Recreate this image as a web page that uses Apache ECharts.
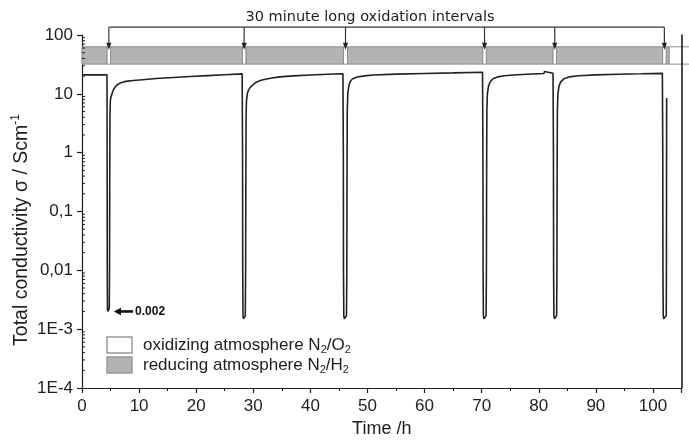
<!DOCTYPE html>
<html><head><meta charset="utf-8">
<script src="https://cdn.jsdelivr.net/npm/echarts@6/dist/echarts.min.js"></script>
<style>html,body{margin:0;padding:0;background:#fff}#c{width:689px;height:443px}</style>
</head><body><div id="c"></div>
<script>
// measured conductivity trace (time in h, sigma in S/cm)
const timeH = [
  0, 1, 2, 3, 4.38,
  4.4, 4.42, 4.46, 4.55, 4.7, 4.78, 4.82, 4.86, 4.9, 4.96, 5.05, 5.2, 5.35, 5.6, 5.9, 6.3, 6.9, 7.7, 9, 10.6, 13, 16, 19, 22, 25, 28.05,
  28.12, 28.15, 28.2, 28.3, 28.5, 28.6, 28.66, 28.7, 28.74, 28.8, 28.95, 29.2, 29.6, 30.5, 31.5, 33, 34.6, 37, 40, 43, 45.7,
  45.77, 45.8, 45.85, 45.95, 46.25, 46.33, 46.38, 46.42, 46.46, 46.55, 46.75, 47.0, 47.4, 48.2, 49.5, 51, 55, 60, 65, 70.15,
  70.22, 70.25, 70.3, 70.4, 70.7, 70.78, 70.83, 70.87, 70.91, 71.0, 71.2, 71.5, 72.0, 72.8, 74, 75.5, 78, 80.9, 81.0, 81.1, 82.5,
  82.57, 82.6, 82.65, 82.75, 83.05, 83.13, 83.18, 83.22, 83.26, 83.35, 83.55, 83.85, 84.4, 85.3, 87, 90, 94, 98, 101.65,
  101.72, 101.75, 101.8, 101.9, 102.25, 102.33, 102.36, 102.38, 102.4
];
const sigma = [
  21, 21, 21, 21, 21,
  1, 0.01, 0.0022, 0.002, 0.002, 0.0023, 0.01, 0.5, 4, 7.5, 8.8, 9.6, 10.8, 12.2, 13.4, 14.6, 15.6, 16.3, 16.9, 17.4, 18.2, 19, 19.7, 20.4, 21.1, 21.8,
  1, 0.01, 0.0017, 0.0015, 0.0015, 0.0017, 0.01, 0.5, 4, 7.5, 10, 11.8, 13.3, 15.8, 17.2, 18.4, 19.4, 20.2, 20.9, 21.5, 22,
  1, 0.01, 0.0017, 0.0015, 0.0015, 0.0017, 0.01, 0.5, 5, 10, 14, 16.4, 18, 19.3, 20.2, 20.9, 21.6, 22.2, 22.7, 23.3,
  1, 0.01, 0.0017, 0.0015, 0.0015, 0.0017, 0.01, 0.5, 5, 10, 13.5, 16, 18, 19.4, 20.3, 20.9, 21.5, 22.1, 24, 22.2, 22.3,
  1, 0.01, 0.0017, 0.0015, 0.0015, 0.0017, 0.01, 0.5, 5, 10, 13.5, 16, 18, 19.4, 20.3, 21, 21.5, 21.9, 22.3,
  1, 0.01, 0.0017, 0.0015, 0.0015, 0.0017, 0.01, 0.5, 8.5
];
const yTickValues = [1e-4, 1e-3, 0.01, 0.1, 1, 10, 100];
const yTickLabels = ['1E-4', '1E-3', '0,01', '0,1', '1', '10', '100'];
const yMinorTicks = [
  2e-4,3e-4,4e-4,5e-4,6e-4,7e-4,8e-4,9e-4,
  2e-3,3e-3,4e-3,5e-3,6e-3,7e-3,8e-3,9e-3,
  0.02,0.03,0.04,0.05,0.06,0.07,0.08,0.09,
  0.2,0.3,0.4,0.5,0.6,0.7,0.8,0.9,
  2,3,4,5,6,7,8,9,
  20,30,40,50,60,70,80,90
];
const reducingIntervals = [[0,4.4],[5.0,28.1],[28.7,45.8],[46.5,70.2],[70.8,82.5],[83.1,101.7],[102.3,102.85]];
const oxidizingIntervals = [[4.4,5.0],[28.1,28.7],[45.8,46.5],[70.2,70.8],[82.5,83.1],[101.7,102.3],[102.85,107.5]];
const arrowTimes = [4.7, 28.4, 46.15, 70.5, 82.8, 102.0];
const bandRange = [32, 63];
const bracketLevel = 136;
const arrowTipLevel = 56;
const annotValue = 0.002, annotTip = 5.6, annotTail = 8.95, annotLabel = '0.002';
const titleText = '30 minute long oxidation intervals';
const legendLabels = ['oxidizing atmosphere N{s|2}/O{s|2}', 'reducing atmosphere N{s|2}/H{s|2}'];

const FONT = 'Liberation Sans, Arial, sans-serif';
const INK = '#1e1e1e';

function bandRender(fill) {
  return function (params, api) {
    const s = api.coord([api.value(0), bandRange[1]]);
    const e = api.coord([api.value(1), bandRange[0]]);
    return { type: 'rect', shape: { x: s[0], y: s[1], width: e[0] - s[0], height: e[1] - s[1] },
      style: { fill: fill, stroke: '#8e8e8e', lineWidth: 1 } };
  };
}

const chart = echarts.init(document.getElementById('c'), null, { renderer: 'canvas' });
chart.setOption({
  animation: false,
  backgroundColor: '#fff',
  grid: { left: 82, right: 7.5, top: 35, bottom: 53, containLabel: false },
  xAxis: {
    type: 'value', min: 0, max: 105, interval: 10,
    axisLine: { show: true, lineStyle: { color: INK, width: 1.2 } },
    axisTick: { show: true, length: 5, lineStyle: { color: INK, width: 1.2 } },
    minorTick: { show: true, splitNumber: 2, length: 3, lineStyle: { color: INK, width: 1 } },
    splitLine: { show: false },
    axisLabel: { color: INK, fontFamily: FONT, fontSize: 17, margin: 10,
      formatter: v => (v > 100 ? '' : String(v)) },
    name: 'Time /h', nameLocation: 'middle', nameGap: 32,
    nameTextStyle: { color: INK, fontFamily: FONT, fontSize: 18 }
  },
  yAxis: [{
    type: 'log', logBase: 10, min: 1e-4, max: 100, splitNumber: 6,
    axisLine: { show: true, lineStyle: { color: INK, width: 1.2 } },
    axisTick: { show: true, length: 5, lineStyle: { color: INK, width: 1.2 } },
    splitLine: { show: false },
    axisLabel: { color: INK, fontFamily: FONT, fontSize: 17, margin: 9,
      formatter: v => {
        for (let i = 0; i < yTickValues.length; i++) {
          if (Math.abs(Math.log10(v) - Math.log10(yTickValues[i])) < 1e-6) return yTickLabels[i];
        }
        return '';
      } }
  }, {
    type: 'log', logBase: 10, min: 1e-4, max: 100, position: 'right', z: 10,
    axisLine: { show: true, lineStyle: { color: INK, width: 1.6 } },
    axisTick: { show: false }, axisLabel: { show: false }, splitLine: { show: false }
  }],
  graphic: [
    { type: 'text', x: 370, y: 17, style: { text: titleText, align: 'center', verticalAlign: 'middle',
      fontFamily: 'DejaVu Sans', fontSize: 14.5, fill: INK } },
    { type: 'text', x: 22, y: 230, rotation: Math.PI / 2,
      style: { text: 'Total conductivity σ / Scm{sup|-1}', align: 'center', verticalAlign: 'middle',
        fontFamily: FONT, fontSize: 19.5, lineHeight: 24, fill: INK,
        rich: { sup: { fontFamily: FONT, fontSize: 12, lineHeight: 24, verticalAlign: 'top', fill: INK } } } },
    { type: 'rect', shape: { x: 107, y: 337, width: 25, height: 16 }, style: { fill: '#fff', stroke: '#9a9a9a', lineWidth: 1.5 } },
    { type: 'rect', shape: { x: 107, y: 357, width: 25, height: 16 }, style: { fill: '#b3b3b3', stroke: '#9a9a9a', lineWidth: 1.5 } },
    { type: 'text', x: 143, y: 345, style: { text: legendLabels[0], verticalAlign: 'middle', fontFamily: FONT, fontSize: 17, lineHeight: 20, fill: INK,
      rich: { s: { fontFamily: FONT, fontSize: 11, lineHeight: 20, verticalAlign: 'bottom', fill: INK } } } },
    { type: 'text', x: 143, y: 365, style: { text: legendLabels[1], verticalAlign: 'middle', fontFamily: FONT, fontSize: 17, lineHeight: 20, fill: INK,
      rich: { s: { fontFamily: FONT, fontSize: 11, lineHeight: 20, verticalAlign: 'bottom', fill: INK } } } }
  ],
  series: [
    { name: 'reducing', type: 'custom', clip: false, z: 2, data: reducingIntervals,
      encode: { x: [0, 1] }, renderItem: bandRender('#b3b3b3') },
    { name: 'oxidizing', type: 'custom', clip: false, z: 2, data: oxidizingIntervals,
      encode: { x: [0, 1] }, renderItem: bandRender('#ffffff') },
    { name: 'yMinor', type: 'custom', clip: false, z: 3, data: yMinorTicks.map(v => [0, v]),
      renderItem: (params, api) => {
        const p = api.coord([api.value(0), api.value(1)]);
        return { type: 'line', shape: { x1: p[0], y1: p[1], x2: p[0] + 3, y2: p[1] }, style: { stroke: INK, lineWidth: 1 } };
      } },
    { name: 'arrows', type: 'custom', clip: false, z: 4, data: arrowTimes.map(t => [t, arrowTipLevel]),
      renderItem: (params, api) => {
        const t = api.value(0);
        const top = api.coord([t, bracketLevel]);
        const tip = api.coord([t, arrowTipLevel]);
        const children = [
          { type: 'line', shape: { x1: top[0], y1: top[1], x2: tip[0], y2: tip[1] - 5 }, style: { stroke: '#333', lineWidth: 1.2 } },
          { type: 'polygon', shape: { points: [[tip[0] - 2.6, tip[1] - 7], [tip[0] + 2.6, tip[1] - 7], [tip[0], tip[1]]] }, style: { fill: '#222' } }
        ];
        if (params.dataIndex === 0) {
          const end = api.coord([arrowTimes[arrowTimes.length - 1], bracketLevel]);
          children.push({ type: 'line', shape: { x1: top[0], y1: top[1], x2: end[0], y2: end[1] }, style: { stroke: '#333', lineWidth: 1.2 } });
        }
        return { type: 'group', children };
      } },
    { name: 'sigma', type: 'line', z: 5, showSymbol: false, symbol: 'none', clip: true,
      data: timeH.map((t, i) => [t, sigma[i]]),
      lineStyle: { color: '#222', width: 1.6 } },
    { name: 'annotation', type: 'custom', clip: false, z: 6, data: [[annotTip, annotValue]],
      renderItem: (params, api) => {
        const tip = api.coord([api.value(0), api.value(1)]);
        const tail = api.coord([annotTail, annotValue]);
        return { type: 'group', children: [
          { type: 'line', shape: { x1: tip[0] + 5, y1: tip[1], x2: tail[0], y2: tail[1] }, style: { stroke: '#111', lineWidth: 2.6 } },
          { type: 'polygon', shape: { points: [[tip[0], tip[1]], [tip[0] + 7, tip[1] - 3.8], [tip[0] + 7, tip[1] + 3.8]] }, style: { fill: '#111' } },
          { type: 'text', x: tail[0] + 2, y: tail[1], style: { text: annotLabel, verticalAlign: 'middle', fontFamily: FONT, fontSize: 12, fontWeight: 'bold', fill: '#111' } }
        ] };
      } }
  ]
});
</script>
</body></html>
